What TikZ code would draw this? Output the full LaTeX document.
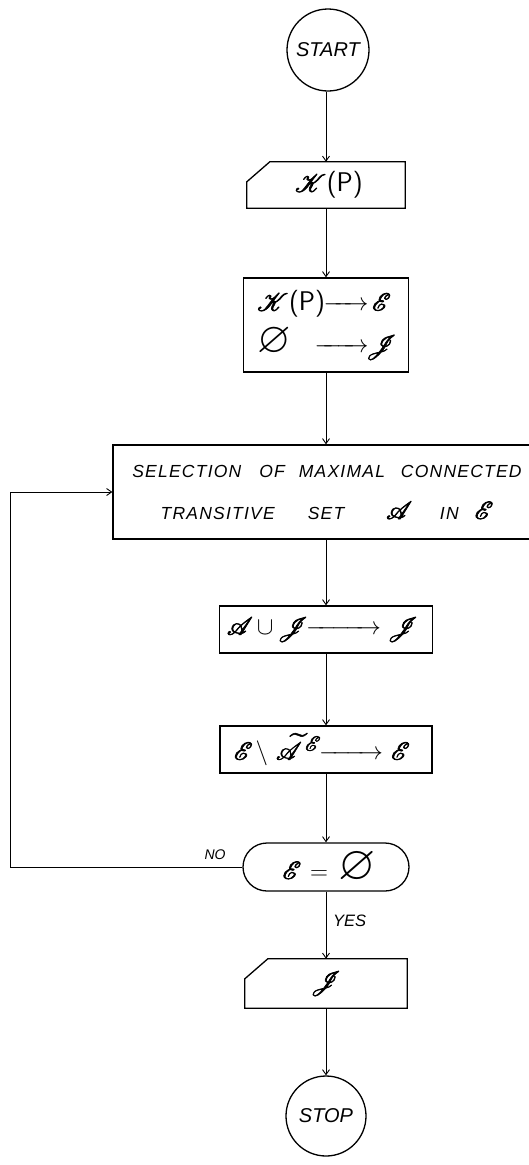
\documentclass[tikz,border=0pt]{standalone}
\usepackage{amsmath,amssymb,mathrsfs,graphicx}
\usepackage{fontspec}
\newfontfamily\hand{Liberation Sans}
\usetikzlibrary{arrows.meta,shapes.misc}
\newcommand\arw[1]{\makebox[#1]{\rightarrowfill}}
\newcommand\mrow[6]{\makebox[#1][l]{#2}\makebox[#3][r]{#4}\makebox[#5][c]{#6}}
\newcommand\emp[1][1.35]{\scalebox{#1}{$\varnothing$}}
\newcommand\heavy[2]{\mbox{\special{pdf:literal direct 2 Tr #1 w}#2\special{pdf:literal direct 0 Tr}}}
\newcommand\scr[1]{\heavy{0.7}{$\mathscr{#1}$}}
\newcommand\kp{\scr{K}\kern1pt{\fontsize{27}{42}\selectfont\textsf{(P)}}}
\tikzset{
  box/.style={draw, line width=1.3pt, rectangle, inner sep=0pt},
  cardbox/.style={draw=none, rectangle, inner sep=0pt},
  circ/.style={draw, line width=1.3pt, circle, inner sep=0pt},
  stad/.style={draw, line width=1.3pt, rounded rectangle, inner sep=0pt},
  conn/.style={line width=0.9pt, -{Straight Barb[length=5pt,width=7pt]}},
  mathtxt/.style={font=\fontsize{32}{42}\selectfont, align=center},
  lbl/.style={font=\hand\itshape\fontsize{#1}{#1}\selectfont, inner sep=0pt},
  outline/.style={line width=1.3pt}
}
\newcommand\cardoutline[1]{\draw[outline] ([yshift=-20pt]#1.north west) -- ([xshift=23pt]#1.north west) -- (#1.north east) -- (#1.south east) -- (#1.south west) -- cycle;}
\begin{document}
\begin{tikzpicture}[x=1pt,y=-1pt]
\useasboundingbox (0,0) rectangle (529,1165);
\fill[white] (0,0) rectangle (529,1165);
\clip (0,0) rectangle (529,1165);

\node[circ, minimum size=82pt, font=\hand\itshape\fontsize{20}{20}\selectfont] (start) at (328,50) {START};

\node[cardbox, minimum width=158pt, minimum height=46pt, mathtxt] (kpc) at (326,185) {\hspace{6pt}\kp};
\cardoutline{kpc}

\node[box, minimum width=165pt, minimum height=94pt, mathtxt] (init) at (326,325)
  {\mrow{66pt}{\kp}{45pt}{\arw{45pt}}{26pt}{\scr{E}}\\
   \mrow{66pt}{\emp}{45pt}{\arw{54pt}}{26pt}{\scr{J}}};

\node[box, minimum width=428pt, minimum height=94pt, align=center,
      font=\hand\itshape\fontsize{17.5}{42}\selectfont\addfontfeature{LetterSpace=7}] (sel) at (327,492)
  {SELECTION\hspace{18pt}OF\hspace{14pt}MAXIMAL\hspace{16pt}CONNECTED\\
   TRANSITIVE\hspace{33pt}SET\hspace{42pt}{\fontsize{28}{42}\selectfont\scr{A}}\hspace{28pt}IN\hspace{16pt}{\fontsize{28}{42}\selectfont\scr{E}}};

\node[box, minimum width=213pt, minimum height=47pt, mathtxt] (uni) at (326,629.5)
  {\mrow{74pt}{\scr{A}$\,\cup\,$\scr{J}}{80pt}{\arw{75pt}}{44pt}{\scr{J}}};

\node[box, minimum width=212pt, minimum height=47pt, mathtxt] (dif) at (326,749.5)
  {\mrow{80pt}{\scr{E}\hspace{3pt}$\setminus$\hspace{8pt}\heavy{0.5}{$\widetilde{\mathscr{A}}^{\,\mathscr{E}}$}}{69pt}{\arw{64pt}}{35pt}{\scr{E}}};

\node[stad, minimum width=166pt, minimum height=48pt, mathtxt] (test) at (326,867)
  {\hspace{6pt}\scr{E}\hspace{9pt}$=$\hspace{10pt}\emp[1.5]};

\node[cardbox, minimum width=162pt, minimum height=49pt, mathtxt] (out) at (326,983.5) {\scr{J}};
\cardoutline{out}

\node[circ, minimum size=80pt, font=\hand\itshape\fontsize{20}{20}\selectfont] (stop) at (326,1116) {STOP};

\draw[conn] (start.south -| kpc.north) -- (kpc.north);
\draw[conn] (kpc.south) -- (kpc.south |- init.north);
\draw[conn] (init.south) -- (init.south |- sel.north);
\draw[conn] (init.south |- sel.south) -- (init.south |- uni.north);
\draw[conn] (uni.south) -- (dif.north);
\draw[conn] (dif.south) -- (test.north);
\draw[conn] (test.south) -- (out.north);
\draw[conn] (out.south) -- (stop.north);

\coordinate (fbcol) at (10,700);
\draw[conn] (test.west) -- (test.west -| fbcol) -- (fbcol |- sel.west) -- (sel.west);

\node[lbl=14, anchor=south] (no) at (215,860) {NO};
\node[lbl=16.5, anchor=west] (yes) at (333,921) {YES};
\end{tikzpicture}
\end{document}
